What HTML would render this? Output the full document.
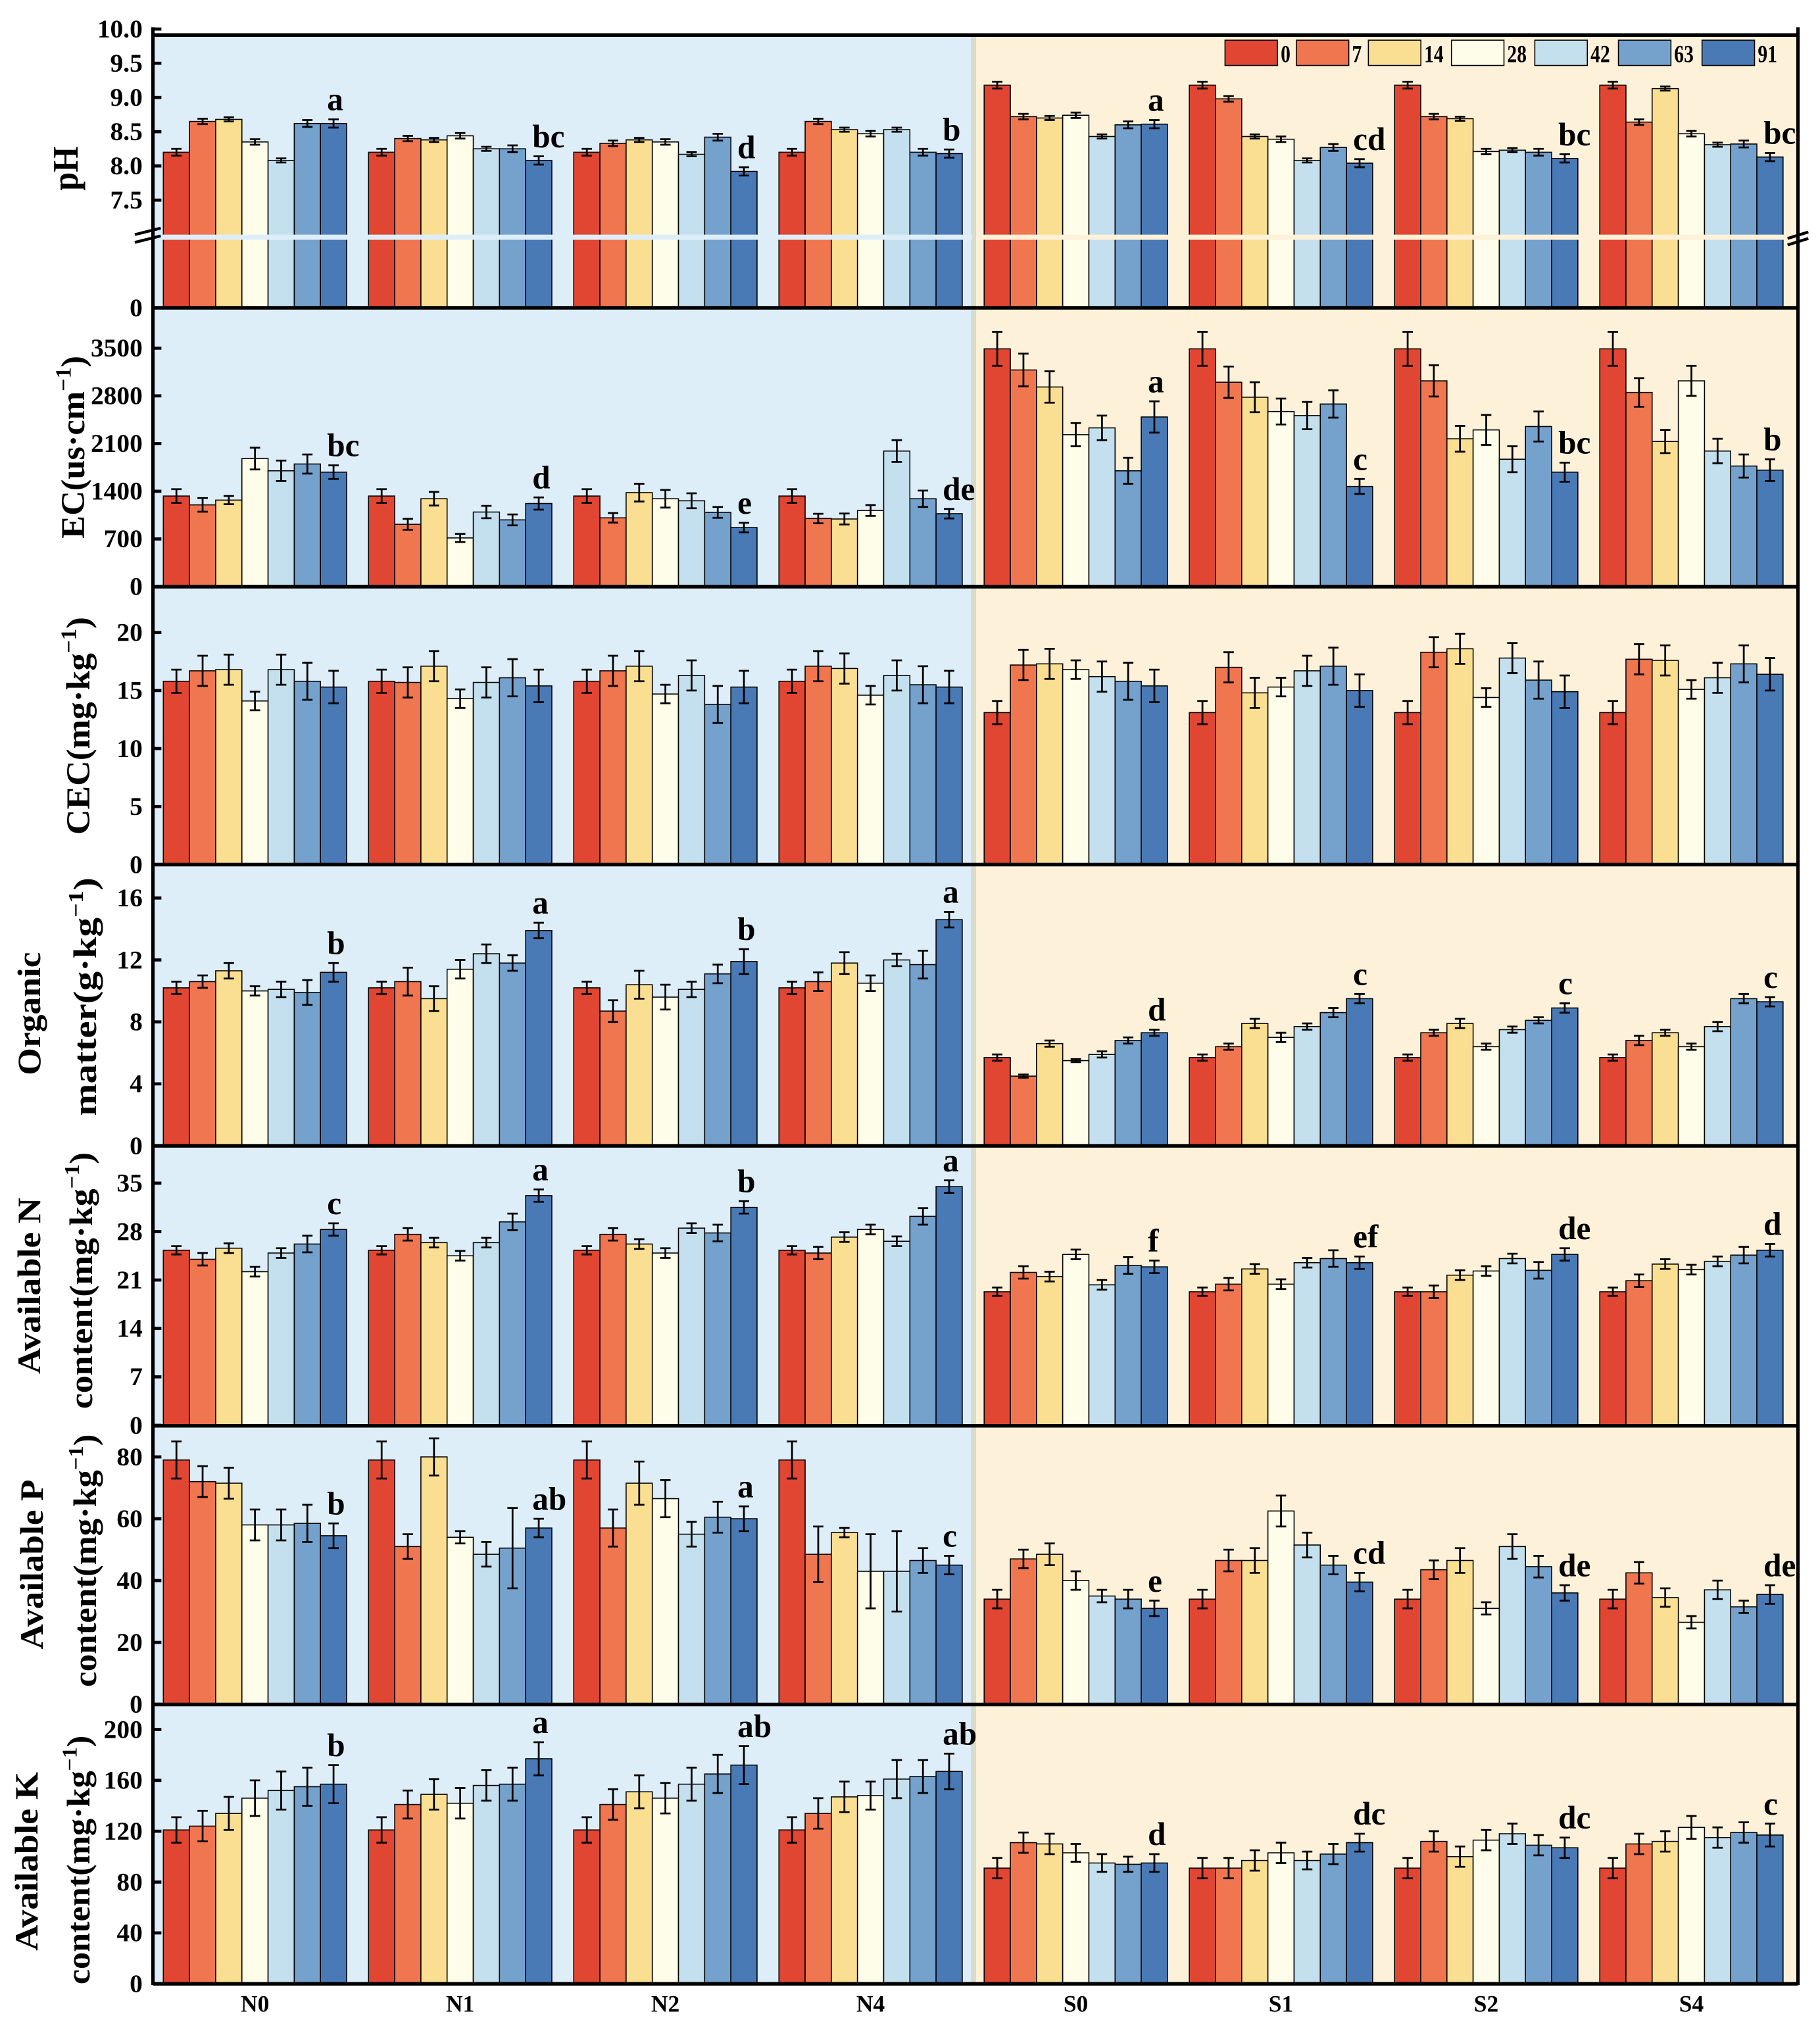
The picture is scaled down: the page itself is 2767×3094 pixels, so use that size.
<!DOCTYPE html>
<html><head><meta charset="utf-8">
<style>
html,body{margin:0;padding:0;background:#fff;}
svg{display:block;}
text{font-family:"Liberation Serif","DejaVu Serif",serif;font-weight:bold;fill:#000;}
</style></head>
<body>
<svg id="chart" width="2767" height="3094" viewBox="0 0 1404 1570" preserveAspectRatio="none" xmlns="http://www.w3.org/2000/svg"></svg>
<script>
const groups=['N0','N1','N2','N4','S0','S1','S2','S4'];
const days=['0','7','14','28','42','63','91'];
const colors=['#e04632','#f07650','#fadf92','#fdfde9','#c4e0ee','#75a1cd','#4a7ab6'];

const phVals=[[8.2,8.65,8.68,8.35,8.08,8.62,8.62],[8.2,8.4,8.38,8.44,8.25,8.25,8.08],[8.2,8.33,8.38,8.35,8.17,8.42,7.92],[8.2,8.65,8.53,8.47,8.53,8.2,8.18],[9.18,8.72,8.7,8.74,8.43,8.6,8.61],[9.18,8.98,8.43,8.39,8.08,8.27,8.04],[9.18,8.72,8.69,8.21,8.23,8.2,8.11],[9.18,8.64,9.13,8.47,8.31,8.32,8.13]];
const phErr=[0.05,0.04,0.03,0.04,0.03,0.05,0.06];
const phLetters=['a','bc','d','b','a','cd','bc','bc'];
const phTicks=['7.5','8.0','8.5','9.0','9.5','10.0'];

const ecVals=[[1330,1200,1270,1880,1700,1800,1680],[1330,915,1290,715,1095,980,1220],[1330,1010,1380,1290,1260,1090,867],[1330,1000,993,1118,1990,1290,1071],[3490,3180,2930,2230,2330,1700,2490],[3490,3000,2780,2570,2510,2680,1470],[3490,3020,2170,2300,1870,2350,1680],[3490,2850,2130,3020,1990,1770,1710]];
const ecErr=[[100,100,60,160,150,140,100],[100,80,100,60,90,80,90],[100,70,130,130,110,80,70],[100,70,80,80,160,120,70],[250,240,230,170,180,190,230],[250,230,220,190,200,200,110],[250,230,190,220,190,220,140],[250,210,170,220,180,170,160]];
const ecLetters=['bc','d','e','de','a','c','bc','b'];
const ecTicks=[0,700,1400,2100,2800,3500];

const cecVals=[[15.8,16.7,16.8,14.1,16.8,15.8,15.3],[15.8,15.7,17.1,14.3,15.7,16.1,15.4],[15.8,16.7,17.1,14.7,16.3,13.8,15.3],[15.8,17.1,16.9,14.6,16.3,15.5,15.3],[13.1,17.2,17.3,16.8,16.2,15.8,15.4],[13.1,17.0,14.8,15.3,16.7,17.1,15.0],[13.1,18.3,18.6,14.4,17.8,15.9,14.9],[13.1,17.7,17.6,15.1,16.1,17.3,16.4]];
const cecErr=[1.0,1.3,1.3,0.8,1.3,1.6,1.4];
const cecTicks=[0,5,10,15,20];

const omVals=[[10.2,10.6,11.3,10.0,10.1,9.9,11.2],[10.2,10.6,9.5,11.4,12.4,11.8,13.9],[10.2,8.7,10.4,9.6,10.1,11.1,11.9],[10.2,10.6,11.8,10.5,12.0,11.7,14.6],[5.7,4.5,6.6,5.5,5.9,6.8,7.3],[5.7,6.4,7.9,7.0,7.7,8.6,9.5],[5.7,7.3,7.9,6.4,7.5,8.1,8.9],[5.7,6.8,7.3,6.4,7.7,9.5,9.3]];
const omErr=[[0.4,0.4,0.5,0.3,0.5,0.8,0.6],[0.4,0.9,0.8,0.6,0.6,0.5,0.5],[0.4,0.7,0.9,0.8,0.5,0.6,0.8],[0.4,0.6,0.7,0.5,0.4,0.9,0.5],[0.2,0.1,0.2,0.1,0.2,0.2,0.2],[0.2,0.2,0.3,0.3,0.2,0.3,0.3],[0.2,0.2,0.3,0.2,0.2,0.2,0.3],[0.2,0.3,0.2,0.2,0.3,0.3,0.3]];
const omLetters=['b','a','b','a','d','c','c','c'];
const omTicks=[0,4,8,12,16];

const anVals=[[25.3,24.0,25.6,22.2,24.9,26.2,28.3],[25.3,27.6,26.4,24.5,26.4,29.4,33.2],[25.3,27.6,26.2,24.9,28.5,27.8,31.5],[25.3,24.9,27.2,28.3,26.6,30.2,34.5],[19.3,22.1,21.5,24.7,20.3,23.1,22.9],[19.3,20.4,22.6,20.4,23.5,24.1,23.5],[19.3,19.3,21.7,22.3,24.1,22.4,24.7],[19.3,20.9,23.3,22.5,23.7,24.6,25.3]];
const anErr=[0.6,0.9,0.7,0.7,0.7,1.2,0.9];
const anLetters=['c','a','b','a','f','ef','de','d'];
const anTicks=[0,7,14,21,28,35];

const apVals=[[79,72,71.5,58,58,58.5,54.5],[79,51,80,54,48.5,50.5,57],[79,57,71.5,66.5,55,60.5,60],[79,48.5,55.5,43,43,46.5,45],[34,47,48.5,40,35,34,31],[34,46.5,46.5,62.5,51.5,45,39.5],[34,43.5,46.5,31,51,44.5,36],[34,42.5,34.5,26.5,37,31.5,35.5]];
const apErr=[[6,5,5,5,5,6,4],[6,4,6,2,4,13,3],[6,6,7,6,4,5,4],[6,9,1.5,12,13,4,3],[3,3,3.5,3,2,3,2.5],[3,3.5,4,5,4,3,3],[3,3,4,2,4,3.5,2.5],[3,3.5,3,2,3,2,3]];
const apLetters=['b','ab','a','c','e','cd','de','de'];
const apTicks=[0,20,40,60,80];

const akVals=[[121,124,134,146,152,155,157],[121,141,149,142,156,157,177],[121,141,151,146,157,165,172],[121,134,147,148,161,163,167],[91,111,110,103,95,94,95],[91,91,97,103,97,102,111],[91,112,100,113,118,109,107],[91,110,112,123,115,119,117]];
const akErr=[[10,12,13,14,15,15,15],[10,11,12,12,12,13,13],[10,12,13,12,13,15,15],[10,12,12,11,15,13,14],[8,8,8,7,7,6,7],[8,8,8,8,7,8,7],[8,8,8,8,8,8,8],[8,8,8,9,8,8,9]];
const akLetters=['b','a','ab','ab','d','dc','dc','c'];
const akTicks=[0,40,80,120,160,200];

const NS='http://www.w3.org/2000/svg';
const svg=document.getElementById('chart');
const X0=118, X1=1387, MID=750;
function mk(tag,attrs,parent){const e=document.createElementNS(NS,tag);for(const k in attrs)e.setAttribute(k,attrs[k]);(parent||svg).appendChild(e);return e;}
function barX(g,i){return 126+g*158.3+i*20.2;}
const BW=20.2;

// backgrounds
const bgL=mk('rect',{x:X0,y:27,width:MID-X0,height:1530.5-27,fill:'#deeef9'});


const bgR=mk('rect',{x:MID,y:27,width:X1-MID,height:1530.5-27,fill:'#fdf2d9'});


const divl=mk('line',{x1:MID+1,y1:27,x2:MID+1,y2:1530.5,stroke:'#d9dccd','stroke-width':4});



function lin(zero,pxPerUnit){return v=>zero-v*pxPerUnit;}

const panels=[
 {name:'ph',top:27,bottom:237.5,y:v=>128-(v-8)*52.8,vals:phVals,err:(g,i)=>phErr[i],letters:phLetters,ticks:phTicks.map(Number),tlab:phTicks},
 {name:'ec',top:237.5,bottom:452.6,y:lin(452.6,36.8/700),vals:ecVals,err:(g,i)=>ecErr[g][i],letters:ecLetters,ticks:ecTicks},
 {name:'cec',top:452.6,bottom:667,y:lin(667,44.75/5),vals:cecVals,err:(g,i)=>cecErr[i],letters:null,ticks:cecTicks},
 {name:'organic-matter',top:667,bottom:884,y:lin(884,47.8/4),vals:omVals,err:(g,i)=>omErr[g][i],letters:omLetters,ticks:omTicks},
 {name:'available-n',top:884,bottom:1100,y:lin(1099.6,37.36/7),vals:anVals,err:(g,i)=>anErr[i],letters:anLetters,ticks:anTicks},
 {name:'available-p',top:1100,bottom:1315,y:lin(1314.8,47.7/20),vals:apVals,err:(g,i)=>apErr[g][i],letters:apLetters,ticks:apTicks},
 {name:'available-k',top:1315,bottom:1530.5,y:lin(1530.5,39.24/40),vals:akVals,err:(g,i)=>akErr[g][i],letters:akLetters,ticks:akTicks}
];

panels.forEach(p=>{
  const grp=mk('g',{});
  
  
  p.vals.forEach((row,g)=>{
    row.forEach((v,i)=>{
      const yv=p.y(v), x=barX(g,i);
      const r=mk('rect',{x:x,y:yv,width:BW,height:p.bottom-yv,fill:colors[i],stroke:'#000','stroke-width':0.8},grp);
      
      
      const e=p.err(g,i), cx=x+BW/2, yt=p.y(v+e), yb=p.y(v-e);
      const eb=mk('path',{d:`M${cx},${yt}V${yb}M${cx-4},${yt}H${cx+4}M${cx-4},${yb}H${cx+4}`,stroke:'#000','stroke-width':1.4,fill:'none'},grp);
      
      
    });
    if(p.letters){
      const v=row[6], e=p.err(g,6);
      const t=mk('text',{x:barX(g,6)+BW/2-5,y:p.y(v+e)-7,'font-size':25},grp);
      t.textContent=p.letters[g];
      
      
    }
  });
  if(p.name==='ph'){
    const s1=mk('rect',{x:X0+2,y:181,width:MID-X0-2,height:4,fill:'#deeef9'},grp);
    
    
    const s2=mk('rect',{x:MID+3,y:181,width:X1-MID-4,height:4,fill:'#fdf2d9'},grp);
    
    
    const bk1=mk('path',{d:`M${X0-14},181 L${X0+6},176 M${X0-14},187 L${X0+6},182`,stroke:'#000','stroke-width':2.2},grp);
    
    
    const bk2=mk('path',{d:`M${X1-8},184 L${X1+8},179 M${X1-8},189 L${X1+8},184`,stroke:'#000','stroke-width':2.2},grp);
    
    
  }
  // frame lines
  const bl=mk('line',{x1:X0,y1:p.bottom,x2:X1,y2:p.bottom,stroke:'#000','stroke-width':2.8},grp);
  
  
  // ticks
  p.ticks.forEach((tv,k)=>{
    const yy=p.y(tv);
    const tk=mk('line',{x1:X0,y1:yy,x2:X0+6.5,y2:yy,stroke:'#000','stroke-width':2.4},grp);
    
    
    const tl=mk('text',{x:110,y:yy+6.5,'font-size':20,'text-anchor':'end'},grp);
    tl.textContent=p.tlab?p.tlab[k]:String(tv);
    
    
  });
  if(p.name==='ph'){
    const tk=mk('line',{x1:X0,y1:237.5,x2:X0+6.5,y2:237.5,stroke:'#000','stroke-width':2.4},grp);
    
    
    const tl=mk('text',{x:110,y:244,'font-size':20,'text-anchor':'end'},grp);
    tl.textContent='0';
    
    
  }
});

// top frame and axes
const topl=mk('line',{x1:X0,y1:27,x2:X1,y2:27,stroke:'#000','stroke-width':2.8});


const la=mk('line',{x1:X0,y1:21,x2:X0,y2:1531.5,stroke:'#000','stroke-width':2.6});


const ra=mk('line',{x1:X1,y1:21,x2:X1,y2:1531.5,stroke:'#000','stroke-width':2.6});



// x labels
groups.forEach((g,k)=>{
  const t=mk('text',{x:barX(k,0)+BW*3.5,y:1552,'font-size':18,'text-anchor':'middle'});
  t.textContent=g;
  
  
});

// legend
const legX=[945,1000,1055.6,1119.7,1184,1248.5,1313];
days.forEach((d,i)=>{
  const r=mk('rect',{x:legX[i],y:31,width:40.5,height:19.5,fill:colors[i],stroke:'#000','stroke-width':0.8});
  
  
  const t=mk('text',{x:legX[i]+43,y:48,'font-size':19,textLength:d.length*7.5,lengthAdjust:'spacingAndGlyphs'});
  t.textContent=d;
  
  
});

// y titles
function ytitle(parts,cx,cy,fs,len,name){
  const t=mk('text',{transform:`translate(${cx},${cy}) rotate(-90)`,'text-anchor':'middle','font-size':fs,textLength:len,lengthAdjust:'spacingAndGlyphs'});
  parts.forEach(pp=>{
    const s=mk('tspan',pp.sup?{'font-size':fs*0.65,dy:-fs*0.4}:(pp.after?{dy:fs*0.4}:{}),t);
    s.textContent=pp.t;
  });
  
  
}
ytitle([{t:'pH'}],60,130,28,34,'ph-y-axis-title');
ytitle([{t:'EC(us·cm'},{t:'−1',sup:1},{t:')',after:1}],65,345,26,141,'ec-y-axis-title');
ytitle([{t:'CEC(mg·kg'},{t:'−1',sup:1},{t:')',after:1}],69,560,26,168,'cec-y-axis-title');
ytitle([{t:'Organic'}],31,782,25,95,'om-y-axis-title-line1');
ytitle([{t:'matter(g·kg'},{t:'−1',sup:1},{t:')',after:1}],74,769,25,184,'om-y-axis-title-line2');
ytitle([{t:'Available N'}],31,992,25,136,'an-y-axis-title-line1');
ytitle([{t:'content(mg·kg'},{t:'−1',sup:1},{t:')',after:1}],71,988,25,198,'an-y-axis-title-line2');
ytitle([{t:'Available P'}],33,1207,25,131,'ap-y-axis-title-line1');
ytitle([{t:'content(mg·kg'},{t:'−1',sup:1},{t:')',after:1}],74,1204,25,195,'ap-y-axis-title-line2');
ytitle([{t:'Available K'}],29,1436,25,138,'ak-y-axis-title-line1');
ytitle([{t:'content(mg·kg'},{t:'−1',sup:1},{t:')',after:1}],69,1435,25,192,'ak-y-axis-title-line2');
</script>
</body></html>
